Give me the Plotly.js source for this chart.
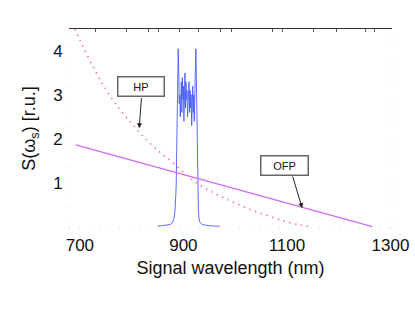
<!DOCTYPE html>
<html>
<head>
<meta charset="utf-8">
<script src="https://cdn.plot.ly/plotly-3.0.1.min.js"></script>
<style>html,body{margin:0;padding:0;background:#fff;}#chart{width:415px;height:312px;}</style>
</head>
<body>
<div id="chart"></div>
<script>
// HP curve (dotted)
const hpWavelength = [690, 700, 725, 750, 775, 800, 825, 850, 875, 900, 925, 950, 975, 1000, 1025, 1050, 1075, 1100, 1125, 1145];
const hpValue = [4.5, 4.25, 3.65, 3.13, 2.7, 2.35, 2.02, 1.74, 1.5, 1.24, 1.0, 0.82, 0.67, 0.54, 0.41, 0.3, 0.2, 0.11, 0.04, 0.0];

// OFP curve (solid)
const ofpWavelength = [692, 800, 900, 1000, 1100, 1200, 1265];
const ofpValue = [1.86, 1.51, 1.185, 0.86, 0.536, 0.211, 0.0];

// Signal spectrum
const specWavelength = [850, 860, 870, 875, 878, 880, 882, 884, 886, 887, 888, 889, 890, 891, 892, 893, 894, 895, 896, 897, 898, 899, 900, 901, 902, 903, 904, 905, 906, 907, 908, 909, 910, 911, 912, 913, 914, 915, 916, 917, 918, 919, 920, 921, 922, 923, 924, 925, 926, 927, 928, 929, 930, 932, 935, 940, 950, 970];
const specValue = [0.01, 0.02, 0.03, 0.05, 0.08, 0.12, 0.2, 0.4, 0.9, 1.6, 2.6, 3.6, 4.05, 3.5, 2.8, 3.0, 2.5, 3.1, 3.3, 2.6, 3.4, 2.9, 3.2, 2.4, 3.0, 3.5, 2.7, 3.3, 2.9, 3.1, 2.5, 3.0, 2.8, 3.3, 2.6, 3.1, 2.7, 3.0, 2.3, 2.9, 3.2, 2.6, 3.0, 2.4, 2.8, 3.6, 4.05, 3.4, 2.5, 1.5, 0.8, 0.4, 0.2, 0.1, 0.06, 0.04, 0.02, 0.01];

// Axis ticks
const xTickVals = [700, 900, 1100, 1300];
const yTickVals = [1, 2, 3, 4];
const topTickVals = [731, 791, 832, 851, 892, 930, 972, 993, 1072, 1092, 1151, 1196, 1251, 1270];

const FONT = 'Liberation Sans, Arial, Helvetica, sans-serif';

const traces = [
  {x: specWavelength, y: specValue, mode: 'lines', line: {color: '#4a5cff', width: 0.9}, hoverinfo: 'none'},
  {x: hpWavelength, y: hpValue, mode: 'lines', line: {color: '#ff6a9c', width: 1.5, dash: '1.5px,4.5px', shape: 'spline'}, hoverinfo: 'none'},
  {x: ofpWavelength, y: ofpValue, mode: 'lines', line: {color: '#cc6cf4', width: 1.3}, hoverinfo: 'none'},
  {x: topTickVals, y: topTickVals.map(() => null), xaxis: 'x2', mode: 'lines', hoverinfo: 'none'}
];

const layout = {
  width: 415, height: 312,
  margin: {l: 69, r: 23, t: 29, b: 84},
  paper_bgcolor: '#fff', plot_bgcolor: '#fff',
  showlegend: false,
  font: {family: FONT, color: '#111'},
  xaxis: {
    range: [679, 1303], tickvals: xTickVals, ticktext: xTickVals.map(String),
    showgrid: false, zeroline: false, showline: false,
    ticks: 'outside', ticklen: 2, tickcolor: 'rgba(0,0,0,0)',
    tickfont: {size: 17, family: FONT, color: '#111'},
    title: {text: 'Signal wavelength (nm)', font: {size: 18, family: FONT, color: '#111'}, standoff: 6}
  },
  xaxis2: {
    overlaying: 'x', side: 'top', range: [679, 1303], tickvals: topTickVals,
    showticklabels: false, ticks: 'inside', ticklen: 3, tickcolor: '#555',
    showline: true, linecolor: '#333', linewidth: 1, showgrid: false, zeroline: false
  },
  yaxis: {
    range: [-0.03, 4.5], tickvals: yTickVals, ticktext: yTickVals.map(String),
    showgrid: false, zeroline: false, showline: false,
    ticks: 'outside', ticklen: 2, tickcolor: 'rgba(0,0,0,0)',
    tickfont: {size: 17, family: FONT, color: '#111'},
    title: {text: 'S(ω<sub>s</sub>) [r.u.]', font: {size: 18, family: FONT, color: '#111'}, standoff: 12}
  },
  shapes: [
    {type: 'line', xref: 'paper', yref: 'paper', x0: 0, x1: 0, y0: 0, y1: 1, line: {color: '#d4d4d4', width: 1, dash: '1px,9px'}},
    {type: 'line', xref: 'paper', yref: 'paper', x0: 1, x1: 1, y0: 0, y1: 1, line: {color: '#dcdcdc', width: 1, dash: '1px,9px'}},
    {type: 'line', xref: 'paper', yref: 'paper', x0: 0, x1: 1, y0: 0, y1: 0, line: {color: '#dcdcdc', width: 1, dash: '1px,9px'}}
  ],
  annotations: [
    {x: 819, y: 3.19, xref: 'x', yref: 'y', text: 'HP', showarrow: false,
     font: {size: 11, family: FONT, color: '#111'}, bgcolor: '#fff', bordercolor: '#666', borderwidth: 1.5,
     borderpad: 2, width: 41, height: 14},
    {x: 1095.5, y: 1.40, xref: 'x', yref: 'y', text: 'OFP', showarrow: false,
     font: {size: 11, family: FONT, color: '#111'}, bgcolor: '#fff', bordercolor: '#666', borderwidth: 1.5,
     borderpad: 2, width: 42, height: 14},
    {x: 814.6, y: 2.24, xref: 'x', yref: 'y', text: '', showarrow: true, ax: 2.4, ay: -31.6,
     arrowhead: 2, arrowsize: 1, arrowwidth: 1, arrowcolor: '#222'},
    {x: 1129.5, y: 0.425, xref: 'x', yref: 'y', text: '', showarrow: true, ax: -10, ay: -33,
     arrowhead: 2, arrowsize: 1, arrowwidth: 1, arrowcolor: '#222'}
  ]
};

Plotly.newPlot('chart', traces, layout, {staticPlot: true, displayModeBar: false});
</script>
</body>
</html>
